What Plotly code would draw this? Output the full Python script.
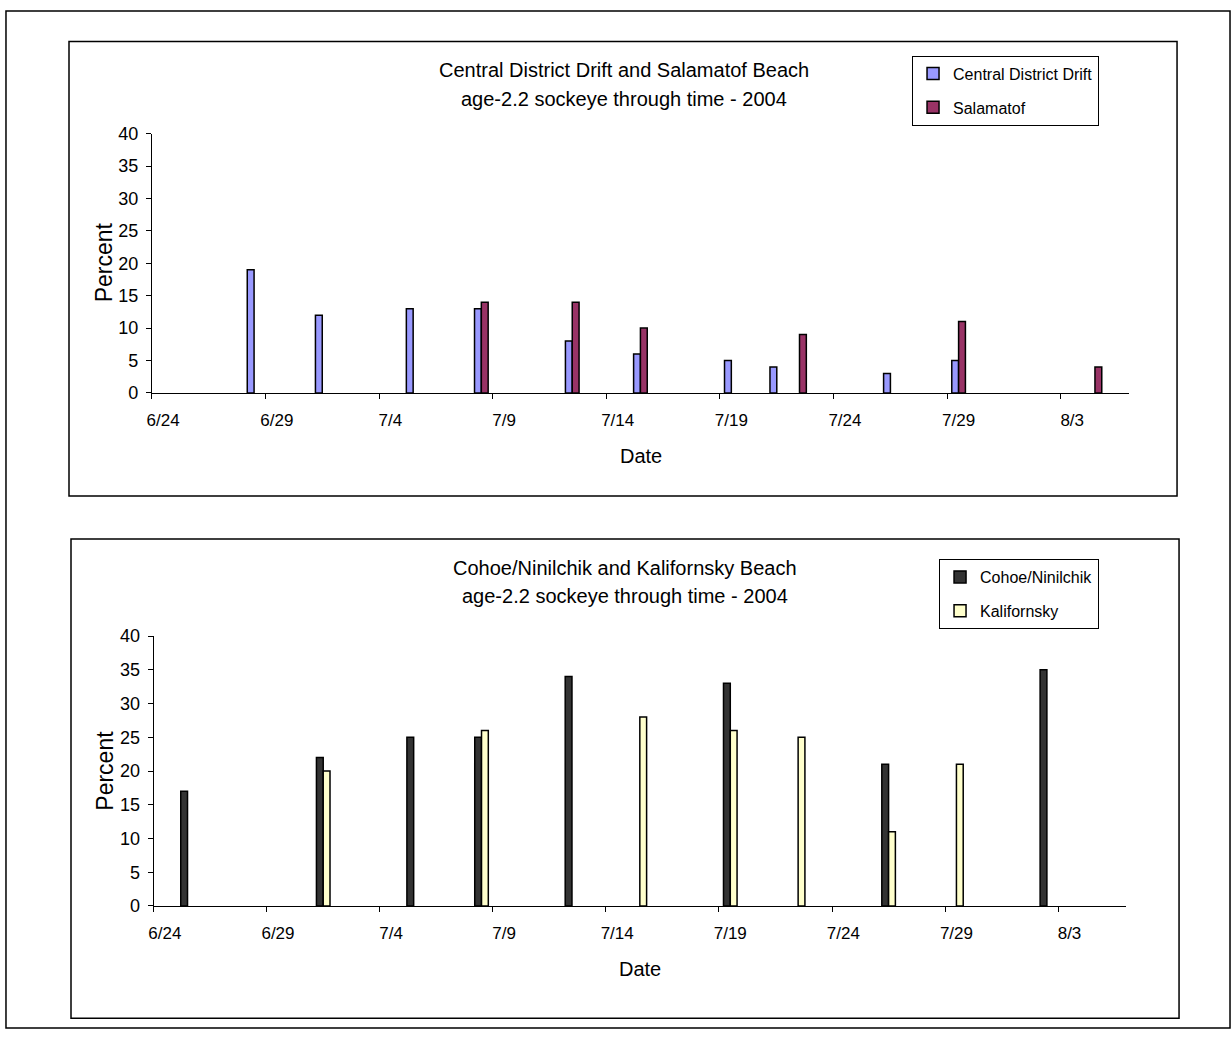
import plotly.graph_objects as go

W, H = 1231, 1039
YEAR = 2004
DAY = 86400000  # ms

# ---------------- data ----------------
top_title = ["Central District Drift and Salamatof Beach",
             "age-2.2 sockeye through time - 2004"]
cdd_name = "Central District Drift"
cdd_dates = ["6/28", "7/1", "7/5", "7/8", "7/12", "7/15", "7/19", "7/21", "7/26", "7/29"]
cdd_values = [19, 12, 13, 13, 8, 6, 5, 4, 3, 5]
sal_name = "Salamatof"
sal_dates = ["7/8", "7/12", "7/15", "7/22", "7/29", "8/4"]
sal_values = [14, 14, 10, 9, 11, 4]

bot_title = ["Cohoe/Ninilchik and Kalifornsky Beach",
             "age-2.2 sockeye through time - 2004"]
coh_name = "Cohoe/Ninilchik"
coh_dates = ["6/25", "7/1", "7/5", "7/8", "7/12", "7/19", "7/26", "8/2"]
coh_values = [17, 22, 25, 25, 34, 33, 21, 35]
kal_name = "Kalifornsky"
kal_dates = ["7/1", "7/8", "7/15", "7/19", "7/22", "7/26", "7/29"]
kal_values = [20, 26, 28, 26, 25, 11, 21]

x_tick_labels = ["6/24", "6/29", "7/4", "7/9", "7/14", "7/19", "7/24", "7/29", "8/3"]
x_first, x_last = "6/24", "8/6"
y_ticks = [0, 5, 10, 15, 20, 25, 30, 35, 40]
x_title = "Date"
y_title = "Percent"

colors = {"cdd": "#9999FF", "sal": "#993366", "coh": "#333333", "kal": "#FFFFCC"}
FONT = "Liberation Sans, Arial, sans-serif"


def iso(md, time=""):
    m, d = md.split("/")
    s = f"{YEAR}-{int(m):02d}-{int(d):02d}"
    return s + (" " + time if time else "")


# map a target pixel position on the picture to paper coordinates
# (compensates the small offset/scale seen in the rendered picture)
def fx(px):
    return ((px - 5.0) / 0.9959) / W


def fy(py):
    return 1 - ((py - 10.4) / 0.98) / H


fig = go.Figure()
BW = 0.3 * DAY


def add_pair(d1, v1, n1, c1, d2, v2, n2, c2, xa, ya, leg):
    fig.add_trace(go.Bar(x=[iso(d) for d in d1], y=v1, name=n1, xaxis=xa, yaxis=ya,
                         width=BW, offset=0.5 * DAY - BW, legend=leg, legendgroup=n1,
                         marker=dict(color=c1, line=dict(color="black", width=1.5))))
    fig.add_trace(go.Bar(x=[iso(d) for d in d2], y=v2, name=n2, xaxis=xa, yaxis=ya,
                         width=BW, offset=0.5 * DAY, legend=leg, legendgroup=n2,
                         marker=dict(color=c2, line=dict(color="black", width=1.5))))


add_pair(cdd_dates, cdd_values, cdd_name, colors["cdd"],
         sal_dates, sal_values, sal_name, colors["sal"], "x", "y", "legend")
add_pair(coh_dates, coh_values, coh_name, colors["coh"],
         kal_dates, kal_values, kal_name, colors["kal"], "x2", "y2", "legend2")


def xaxis(domain, anchor):
    return dict(domain=domain, anchor=anchor, type="date",
                range=[iso(x_first), iso(x_last)],
                tickmode="array", tickvals=[iso(t, "12:00") for t in x_tick_labels],
                ticktext=x_tick_labels, ticks="outside", ticklen=12,
                tickcolor="rgba(0,0,0,0)",
                minor=dict(ticks="outside", ticklen=5, tickcolor="black", tickwidth=1,
                           tick0=iso(x_first), dtick=5 * DAY, showgrid=False),
                showline=True, linecolor="black", linewidth=1, showgrid=False,
                zeroline=False, tickfont=dict(size=17, color="black", family=FONT),
                fixedrange=True)


def yaxis(domain, anchor):
    return dict(domain=domain, anchor=anchor, range=[0, 40], tickmode="array",
                tickvals=y_ticks, ticks="outside", ticklen=5, tickcolor="black",
                showline=True, linecolor="black", linewidth=1, showgrid=False,
                zeroline=False, ticklabelstandoff=4,
                tickfont=dict(size=18, color="black", family=FONT), fixedrange=True)


shapes = [dict(type="rect", xref="paper", yref="paper", x0=0.0008, x1=0.9992,
               y0=0.001, y1=0.999, line=dict(color="black", width=1.5),
               fillcolor="rgba(0,0,0,0)")]
for (x0, y0, x1, y1) in [(69, 42, 1177, 496), (71, 539, 1179, 1018)]:
    shapes.append(dict(type="rect", xref="paper", yref="paper",
                       x0=fx(x0), x1=fx(x1), y0=fy(y0), y1=fy(y1),
                       line=dict(color="black", width=1.5), fillcolor="rgba(0,0,0,0)"))

annotations = []


def ann(text, x, y, size, angle=0):
    annotations.append(dict(text=text, x=fx(x), y=fy(y), xref="paper", yref="paper",
                            showarrow=False, xanchor="center", yanchor="middle",
                            textangle=angle,
                            font=dict(size=size, color="black", family=FONT)))


ann(top_title[0], 623.5, 70, 20)
ann(top_title[1], 623.5, 99, 20)
ann(bot_title[0], 625, 568, 20)
ann(bot_title[1], 625, 596, 20)
ann(x_title, 641, 456, 20)
ann(x_title, 640, 969, 20)
ann(y_title, 103.5, 263, 23, -90)
ann(y_title, 105.5, 771, 23, -90)

legend_style = dict(bordercolor="black", borderwidth=1, bgcolor="white",
                    font=dict(size=16, color="black", family=FONT),
                    xanchor="left", yanchor="top", tracegroupgap=10,
                    orientation="v")

fig.update_layout(
    width=W, height=H, margin=dict(l=0, r=0, t=0, b=0),
    paper_bgcolor="white", plot_bgcolor="white",
    barmode="overlay", showlegend=True,
    font=dict(family=FONT, color="black"),
    xaxis=xaxis([fx(151.8), fx(1129)], "y"),
    yaxis=yaxis([fy(393), fy(134)], "x"),
    xaxis2=xaxis([fx(153.6), fx(1126)], "y2"),
    yaxis2=yaxis([fy(905.7), fy(636)], "x2"),
    legend=dict(x=fx(912), y=fy(56), **legend_style),
    legend2=dict(x=fx(939), y=fy(559), **legend_style),
    shapes=shapes, annotations=annotations,
)

fig.write_html("out.html")
